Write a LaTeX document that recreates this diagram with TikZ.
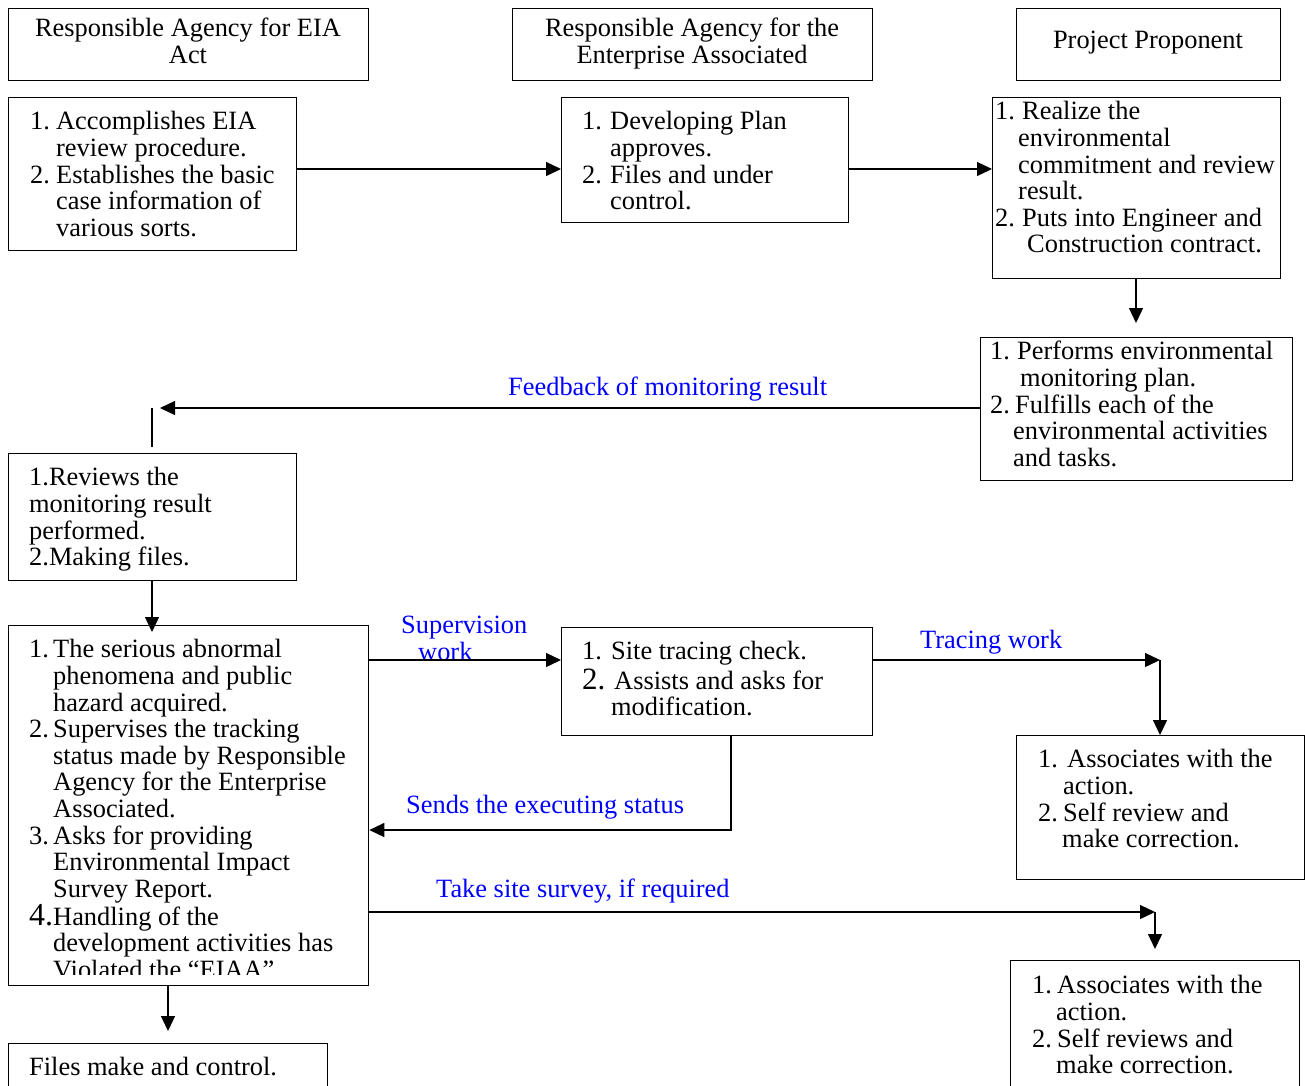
\documentclass[tikz,border=0pt]{standalone}
\usepackage{fontspec}
\setmainfont{Liberation Serif}
\usetikzlibrary{arrows.meta,calc}
\newcommand\numbx[2]{\makebox[#1pt][l]{#2}}
\newcommand\indnt[1]{\hspace*{#1pt}}
\begin{document}
\begin{tikzpicture}[x=1pt,y=-1pt,
  box/.style={draw, line width=1.3pt, inner sep=0, anchor=north west},
  txt/.style={inner sep=0, anchor=north west, align=left, font=\fontsize{26.4}{26.6}\selectfont},
  ctxt/.style={txt, anchor=north, align=center},
  lbl/.style={txt, text=blue},
  conn/.style={line width=1.3pt, -{Triangle[length=15pt,width=14pt]}},
  plainln/.style={line width=1.3pt}]
\clip (0,0) rectangle (1305,1085);
% boxes
\node[box, minimum width=360, minimum height=72] (H1) at (8,8) {};
\node[box, minimum width=360, minimum height=72] (H2) at (512,8) {};
\node[box, minimum width=264, minimum height=72] (H3) at (1016,8) {};
\node[box, minimum width=288, minimum height=153] (B1) at (8,97) {};
\node[box, minimum width=287, minimum height=125] (B2) at (561,97) {};
\node[box, minimum width=288, minimum height=181] (B3) at (992,97) {};
\node[box, minimum width=312, minimum height=143] (B4) at (980,337) {};
\node[box, minimum width=288, minimum height=127] (B5) at (8,453) {};
\node[box, minimum width=360, minimum height=360] (B6) at (8,625) {};
\node[box, minimum width=319, minimum height=60] (B7) at (8,1043) {};
\node[box, minimum width=311, minimum height=108] (B8) at (561,627) {};
\node[box, minimum width=288, minimum height=144] (B9) at (1016,735) {};
\node[box, minimum width=289, minimum height=150] (B10) at (1010,960) {};
% texts
\node[ctxt] (tH1) at (188,18) {\strut Responsible Agency for EIA\\Act};
\node[ctxt] (tH2) at (692,18) {\strut Responsible Agency for the\\Enterprise Associated};
\node[ctxt] (tH3) at (1148,30) {\strut Project Proponent};
\node[txt] (t1) at (30,111) {\strut\numbx{26}{1.}Accomplishes EIA\\\indnt{26}review procedure.\\\numbx{26}{2.}Establishes the basic\\\indnt{26}case information of\\\indnt{26}various sorts.};
\node[txt] (t2) at (582,111) {\strut\numbx{28}{1.}Developing Plan\\\indnt{28}approves.\\\numbx{28}{2.}Files and under\\\indnt{28}control.};
\node[txt] (t3) at (995,101) {\strut\numbx{27}{1.}Realize the\\\indnt{23}environmental\\\indnt{23}commitment and review\\\indnt{23}result.\\\numbx{27}{2.}Puts into Engineer and\\\indnt{32}Construction contract.};
\node[txt] (t4) at (990,341) {\strut\numbx{27}{1.}Performs environmental\\\indnt{30}monitoring plan.\\\numbx{25}{2.}Fulfills each of the\\\indnt{23}environmental activities\\\indnt{23}and tasks.};
\node[txt] (t5) at (29,467) {\strut 1.Reviews the\\monitoring result\\performed.\\2.Making files.};
\begin{scope}
\clip (8,625) rectangle (368,974);
\node[txt] (t6) at (29,639) {\strut\numbx{24}{1.}The serious abnormal\\\indnt{24}phenomena and public\\\indnt{24}hazard acquired.\\\numbx{24}{2.}Supervises the tracking\\\indnt{24}status made by Responsible\\\indnt{24}Agency for the Enterprise\\\indnt{24}Associated.\\\numbx{24}{3.}Asks for providing\\\indnt{24}Environmental Impact\\\indnt{24}Survey Report.\\\numbx{24}{\fontsize{32}{26.6}\selectfont 4.}Handling of the\\\indnt{24}development activities has\\\indnt{24}Violated the “EIAA”};
\end{scope}
\node[txt] (t7) at (29,1057) {\strut Files make and control.};
\node[txt] (t8) at (582,641) {\strut\numbx{29}{1.}Site tracing check.\\\numbx{32}{\fontsize{31}{26.6}\selectfont 2.}Assists and asks for\\\indnt{29}modification.};
\node[txt] (t9) at (1038,749) {\strut\numbx{29}{1.}Associates with the\\\indnt{25}action.\\\numbx{25}{2.}Self review and\\\indnt{24}make correction.};
\node[txt] (t10) at (1032,975) {\strut\numbx{25}{1.}Associates with the\\\indnt{24}action.\\\numbx{25}{2.}Self reviews and\\\indnt{24}make correction.};
% labels
\node[lbl] (l1) at (508,377) {\strut Feedback of monitoring result};
\node[lbl, font=\fontsize{26.4}{25.5}\selectfont] (l2) at (401,615) {\strut Supervision\\\indnt{17}work};
\node[lbl] (l3) at (920,630) {\strut Tracing work};
\node[lbl] (l4) at (406,795) {\strut Sends the executing status};
\node[lbl] (l5) at (436,879) {\strut Take site survey, if required};
% connectors
\coordinate (r1) at (0,169);
\draw[conn] (B1.east |- r1) -- (B2.west |- r1);
\draw[conn] (B2.east |- r1) -- (B3.west |- r1);
\coordinate (e34) at (1136,323);
\draw[conn] (B3.south -| e34) -- (e34);
\coordinate (fb) at (160,408);
\draw[conn] (B4.west |- fb) -- (fb);
\coordinate (v1) at (152,408);
\coordinate (v2) at (152,447);
\draw[plainln] (v1) -- (v2);
\coordinate (x56) at (152,632);
\draw[conn] (B5.south -| x56) -- (x56);
\coordinate (e67) at (168,1031);
\draw[conn] (B6.south -| e67) -- (e67);
\coordinate (r2) at (0,660);
\draw[conn] (B6.east |- r2) -- (B8.west |- r2);
\coordinate (k1) at (1160,660);
\draw[conn] (B8.east |- r2) -- (k1);
\draw[conn] (k1) -- (B9.north -| k1);
\coordinate (k2) at (731,830);
\draw[conn] (B8.south -| k2) -- (k2) -- (B6.east |- k2);
\coordinate (k3) at (1155,912);
\coordinate (k4) at (1155,949);
\draw[conn] (B6.east |- k3) -- (k3);
\draw[conn] (k3) -- (k4);
\end{tikzpicture}
\end{document}
